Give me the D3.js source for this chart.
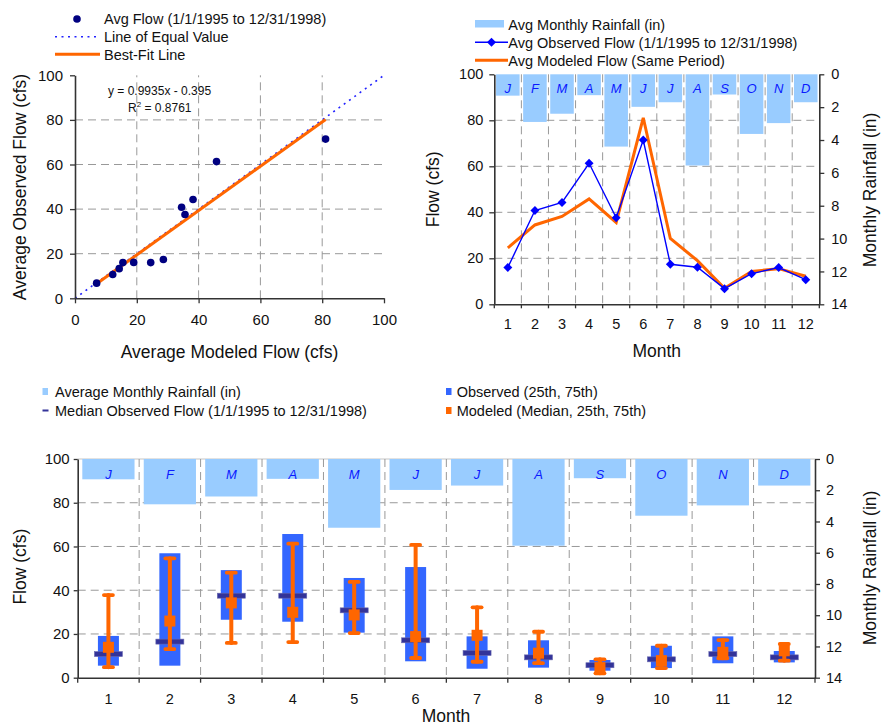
<!DOCTYPE html>
<html><head><meta charset="utf-8">
<script src="https://cdn.jsdelivr.net/npm/d3@7"></script>
<style>body{margin:0;background:#fff}svg{display:block}</style>
</head><body><svg id="c" width="888" height="727"></svg>
<script>
// ---------------- DATA ----------------
const months = [1,2,3,4,5,6,7,8,9,10,11,12];
const monthLetters = ["J","F","M","A","M","J","J","A","S","O","N","D"];
const rainfall = [1.3, 2.9, 2.4, 1.27, 4.4, 1.98, 1.7, 5.55, 1.23, 3.63, 2.97, 1.7];
const avgObserved = [16.0, 40.8, 44.3, 61.3, 37.6, 71.4, 17.4, 16.1, 6.8, 13.3, 16.0, 10.7];
const avgModeled  = [24.5, 34.5, 38.2, 45.8, 35.6, 81.1, 28.6, 19.0, 7.0, 14.3, 15.5, 12.2];
const fitSlope = 0.9935, fitIntercept = -0.395, fitR2 = 0.8761;
const obs25     = [5.5, 5.5, 26.5, 25.6, 20.6, 7.5, 4.1, 4.6, 3.2, 4.4, 6.6, 7.0];
const obs75     = [19.1, 56.9, 49.2, 65.7, 45.6, 50.6, 18.9, 17.1, 8.1, 14.6, 18.9, 12.2];
const obsMedian = [10.8, 16.5, 37.5, 37.5, 30.8, 17.1, 11.3, 9.3, 5.7, 8.4, 10.8, 9.3];
const mod25     = [4.8, 13.1, 15.9, 16.3, 20.4, 9.0, 7.3, 6.7, 2.0, 4.4, 8.9, 7.8];
const modMedian = [13.9, 25.9, 34.2, 29.9, 28.7, 18.8, 19.4, 11.2, 4.6, 7.8, 11.6, 12.3];
const mod75     = [37.8, 54.6, 48.0, 61.3, 43.8, 60.7, 32.2, 21.0, 8.4, 14.6, 17.2, 15.4];
const flowTicks = [0,20,40,60,80,100];
const rainTicks = [0,2,4,6,8,10,12,14];

// ---------------- STYLE ----------------
const FONT = '"Liberation Sans", Arial, Helvetica, sans-serif';
const GRID = "#999", AXIS = "#333", TXT = "#111";
const RAIN = "#99CCFF", OBSLINE = "#0000FF", ORANGE = "#FF6600", NAVY = "#000080";
const BOXBLUE = "#3366FF", MEDNAVY = "#333399", LETTER = "#0a1aff";

const svg = d3.select("#c").attr("font-family", FONT);
svg.append("rect").attr("width",888).attr("height",727).attr("fill","#fff");

function styleAxis(g, fs){
  g.attr("font-family", FONT).attr("font-size", fs);
  g.select(".domain").attr("stroke", AXIS).attr("stroke-width", 1.6);
  g.selectAll(".tick line").attr("stroke", AXIS).attr("stroke-width", 1.3);
  g.selectAll(".tick text").attr("fill", TXT);
}
function hGrid(g, x0, x1, yScale, vals){
  g.selectAll(null).data(vals).join("line")
    .attr("x1", x0).attr("x2", x1).attr("y1", d=>yScale(d)).attr("y2", d=>yScale(d))
    .attr("stroke", GRID).attr("stroke-width", 1).attr("stroke-dasharray", "8,5");
}
function vGridLin(g, y0, y1, xScale, vals){
  g.selectAll(null).data(vals).join("line")
    .attr("y1", y0).attr("y2", y1).attr("x1", d=>xScale(d)).attr("x2", d=>xScale(d))
    .attr("stroke", GRID).attr("stroke-width", 1).attr("stroke-dasharray", "8,5");
}
function rotText(g, x, y, txt, fs){
  g.append("text").attr("transform", `translate(${x},${y}) rotate(-90)`)
    .attr("text-anchor","middle").attr("font-size", fs).attr("fill", TXT).text(txt);
}
const diamond = d3.symbol(d3.symbolSquare, 40);

// =============== CHART A : scatter ===============
(function(){
  const g = svg.append("g");
  const x = d3.scaleLinear().domain([0,100]).range([75,384]);
  const y = d3.scaleLinear().domain([0,100]).range([298.3,75.3]);
  hGrid(g, x(0), x(100), y, [20,40,60,80]);
  vGridLin(g, y(0), y(100), x, [20,40,60,80]);
  g.append("line").attr("x1",x(0)).attr("y1",y(0)).attr("x2",x(100)).attr("y2",y(100))
    .attr("stroke","#2222ff").attr("stroke-width",1.6).attr("stroke-dasharray","2,4.5");
  const xmin = d3.min(avgModeled), xmax = d3.max(avgModeled);
  g.append("line").attr("x1",x(xmin)).attr("y1",y(fitSlope*xmin+fitIntercept))
    .attr("x2",x(xmax)).attr("y2",y(fitSlope*xmax+fitIntercept))
    .attr("stroke",ORANGE).attr("stroke-width",3);
  g.selectAll(null).data(months).join("circle")
    .attr("cx", (d,i)=>x(avgModeled[i])).attr("cy",(d,i)=>y(avgObserved[i]))
    .attr("r",3.8).attr("fill",NAVY);
  const ax = g.append("g").attr("transform",`translate(0,${y(0)})`)
    .call(d3.axisBottom(x).tickValues(flowTicks).tickSize(5).tickSizeOuter(0).tickPadding(11));
  styleAxis(ax, 15);
  const ay = g.append("g").attr("transform",`translate(${x(0)},0)`)
    .call(d3.axisLeft(y).tickValues(flowTicks).tickSize(5).tickSizeOuter(0).tickPadding(7));
  styleAxis(ay, 15);
  g.append("text").attr("x",108).attr("y",95).attr("font-size",12).attr("fill",TXT)
    .text(`y = ${fitSlope}x - ${Math.abs(fitIntercept)}`);
  const r2 = g.append("text").attr("x",128).attr("y",111.5).attr("font-size",12).attr("fill",TXT);
  r2.append("tspan").text("R");
  r2.append("tspan").attr("font-size",8).attr("dy",-5).text("2");
  r2.append("tspan").attr("dy",5).text(` = ${fitR2}`);
  g.append("text").attr("x",229.5).attr("y",358).attr("text-anchor","middle")
    .attr("font-size",17.5).attr("fill",TXT).text("Average Modeled Flow (cfs)");
  rotText(g, 26, 187, "Average Observed Flow (cfs)", 17.5);
  const L = g.append("g").attr("font-size",14.5).attr("fill",TXT);
  L.append("circle").attr("cx",77).attr("cy",19).attr("r",3.8).attr("fill",NAVY);
  L.append("text").attr("x",104).attr("y",24.2).text("Avg Flow (1/1/1995 to 12/31/1998)");
  L.append("line").attr("x1",55).attr("x2",100).attr("y1",36.7).attr("y2",36.7)
    .attr("stroke","#2222ff").attr("stroke-width",1.6).attr("stroke-dasharray","2,4.5");
  L.append("text").attr("x",104).attr("y",41.9).text("Line of Equal Value");
  L.append("line").attr("x1",55).attr("x2",100).attr("y1",54.3).attr("y2",54.3)
    .attr("stroke",ORANGE).attr("stroke-width",3);
  L.append("text").attr("x",104).attr("y",59.5).text("Best-Fit Line");
})();

// =============== CHART B : monthly lines ===============
(function(){
  const g = svg.append("g");
  const x = d3.scaleBand().domain(months).range([494.3,819.3]).paddingInner(0.13).paddingOuter(0.065);
  const xb = d3.scaleBand().domain(months).range([494.3,819.3]);
  const y = d3.scaleLinear().domain([0,100]).range([304.3,74.3]);
  const yr = d3.scaleLinear().domain([0,14]).range([74.3,304.3]);
  hGrid(g, 494.3, 819.3, y, [20,40,60,80]);
  const bounds = months.slice(1).map(m=>xb(m));
  g.selectAll(null).data(bounds).join("line").attr("x1",d=>d).attr("x2",d=>d)
    .attr("y1",y(100)).attr("y2",y(0)).attr("stroke",GRID).attr("stroke-dasharray","8,5");
  g.selectAll(null).data(months).join("rect")
    .attr("x",d=>x(d)).attr("width",x.bandwidth()).attr("y",yr(0))
    .attr("height",(d,i)=>yr(rainfall[i])-yr(0)).attr("fill",RAIN);
  g.selectAll(null).data(months).join("text")
    .attr("x",d=>xb(d)+xb.bandwidth()/2).attr("y",92.5).attr("text-anchor","middle")
    .attr("font-size",13).attr("font-style","italic").attr("fill",LETTER)
    .text((d,i)=>monthLetters[i]);
  const cx = d=>xb(d)+xb.bandwidth()/2;
  g.append("path").datum(months).attr("fill","none").attr("stroke",ORANGE).attr("stroke-width",3)
    .attr("d", d3.line().x(d=>cx(d)).y((d,i)=>y(avgModeled[i])));
  g.append("path").datum(months).attr("fill","none").attr("stroke",OBSLINE).attr("stroke-width",1.4)
    .attr("d", d3.line().x(d=>cx(d)).y((d,i)=>y(avgObserved[i])));
  g.selectAll(null).data(months).join("path")
    .attr("transform",(d,i)=>`translate(${cx(d)},${y(avgObserved[i])}) rotate(45)`)
    .attr("d", diamond).attr("fill",OBSLINE);
  const ay = g.append("g").attr("transform","translate(494.3,0)")
    .call(d3.axisLeft(y).tickValues(flowTicks).tickSize(5).tickSizeOuter(0).tickPadding(6));
  styleAxis(ay, 14.5);
  const ar = g.append("g").attr("transform","translate(819.3,0)")
    .call(d3.axisRight(yr).tickValues(rainTicks).tickSize(5).tickSizeOuter(0).tickPadding(7));
  styleAxis(ar, 14.5);
  const ab = g.append("g").attr("transform",`translate(0,${y(0)})`)
    .call(d3.axisBottom(xb).tickSize(0).tickPadding(14));
  styleAxis(ab, 14.5);
  g.selectAll(null).data(months.map(m=>xb(m)).concat([819.3])).join("line")
    .attr("x1",d=>d).attr("x2",d=>d).attr("y1",y(0)).attr("y2",y(0)+4)
    .attr("stroke",AXIS).attr("stroke-width",1.3);
  g.append("text").attr("x",656.8).attr("y",357).attr("text-anchor","middle")
    .attr("font-size",17.5).attr("fill",TXT).text("Month");
  rotText(g, 439, 189.3, "Flow (cfs)", 17.5);
  rotText(g, 876, 190, "Monthly Rainfall (in)", 17.5);
  const L = g.append("g").attr("font-size",14.5).attr("fill",TXT);
  L.append("rect").attr("x",475).attr("y",20).attr("width",29).attr("height",7.5).attr("fill",RAIN);
  L.append("text").attr("x",508.3).attr("y",29.5).text("Avg Monthly Rainfall (in)");
  L.append("line").attr("x1",475).attr("x2",508).attr("y1",42.3).attr("y2",42.3)
    .attr("stroke",OBSLINE).attr("stroke-width",1.4);
  L.append("path").attr("transform","translate(491.5,42.3) rotate(45)").attr("d",diamond).attr("fill",OBSLINE);
  L.append("text").attr("x",508.3).attr("y",47.5).text("Avg Observed Flow (1/1/1995 to 12/31/1998)");
  L.append("line").attr("x1",475).attr("x2",508).attr("y1",60.3).attr("y2",60.3)
    .attr("stroke",ORANGE).attr("stroke-width",3);
  L.append("text").attr("x",508.3).attr("y",65.5).text("Avg Modeled Flow (Same Period)");
})();

// =============== CHART C : box-style monthly ===============
(function(){
  const g = svg.append("g");
  const L0 = 77.7, R0 = 815;
  const xb = d3.scaleBand().domain(months).range([L0,R0]);
  const xr = d3.scaleBand().domain(months).range([L0,R0]).paddingInner(0.15).paddingOuter(0.075);
  const y = d3.scaleLinear().domain([0,100]).range([677.7,459]);
  const yr = d3.scaleLinear().domain([0,14]).range([459,677.7]);
  const cx = d=>xb(d)+xb.bandwidth()/2;
  g.append("line").attr("x1",L0).attr("x2",R0).attr("y1",y(100)).attr("y2",y(100))
    .attr("stroke","#d8d8d8").attr("stroke-width",1.5);
  hGrid(g, L0, R0, y, [20,40,60,80]);
  g.selectAll(null).data(months.slice(1).map(m=>xb(m))).join("line")
    .attr("x1",d=>d).attr("x2",d=>d).attr("y1",y(100)).attr("y2",y(0))
    .attr("stroke",GRID).attr("stroke-dasharray","8,5");
  g.selectAll(null).data(months).join("rect")
    .attr("x",d=>xr(d)).attr("width",xr.bandwidth()).attr("y",yr(0))
    .attr("height",(d,i)=>yr(rainfall[i])-yr(0)).attr("fill",RAIN);
  g.selectAll(null).data(months).join("text")
    .attr("x",d=>cx(d)).attr("y",478.5).attr("text-anchor","middle")
    .attr("font-size",13).attr("font-style","italic").attr("fill",LETTER)
    .text((d,i)=>monthLetters[i]);
  g.selectAll(null).data(months).join("rect")
    .attr("x",d=>cx(d)-10.5).attr("width",21)
    .attr("y",(d,i)=>y(obs75[i])).attr("height",(d,i)=>y(obs25[i])-y(obs75[i]))
    .attr("fill",BOXBLUE);
  g.selectAll(null).data(months).join("rect")
    .attr("x",d=>cx(d)-14).attr("width",28)
    .attr("y",(d,i)=>y(obsMedian[i])-2.5).attr("height",5)
    .attr("fill",MEDNAVY).attr("stroke","#6a6ab0").attr("stroke-width",0.6);
  const og = g.append("g").attr("stroke",ORANGE).attr("stroke-linecap","round");
  og.selectAll(null).data(months).join("line")
    .attr("x1",d=>cx(d)).attr("x2",d=>cx(d))
    .attr("y1",(d,i)=>y(mod75[i])).attr("y2",(d,i)=>y(mod25[i])).attr("stroke-width",4);
  og.selectAll(null).data(months.flatMap((m,i)=>[[m,mod25[i]],[m,mod75[i]]])).join("line")
    .attr("x1",d=>cx(d[0])-4.5).attr("x2",d=>cx(d[0])+4.5)
    .attr("y1",d=>y(d[1])).attr("y2",d=>y(d[1])).attr("stroke-width",3.8);
  g.selectAll(null).data(months).join("rect")
    .attr("x",d=>cx(d)-5.5).attr("width",11)
    .attr("y",(d,i)=>y(modMedian[i])-5.5).attr("height",11).attr("fill",ORANGE);
  const ay = g.append("g").attr("transform",`translate(${L0},0)`)
    .call(d3.axisLeft(y).tickValues(flowTicks).tickSize(4).tickSizeOuter(0).tickPadding(4));
  styleAxis(ay, 15);
  const ar = g.append("g").attr("transform",`translate(${R0},0)`)
    .call(d3.axisRight(yr).tickValues(rainTicks).tickSize(5).tickSizeOuter(0).tickPadding(6));
  styleAxis(ar, 14.5);
  const ab = g.append("g").attr("transform",`translate(0,${y(0)})`)
    .call(d3.axisBottom(xb).tickSize(0).tickPadding(16));
  styleAxis(ab, 14.5);
  g.selectAll(null).data(months.map(m=>xb(m)).concat([R0])).join("line")
    .attr("x1",d=>d).attr("x2",d=>d).attr("y1",y(0)).attr("y2",y(0)+5)
    .attr("stroke",AXIS).attr("stroke-width",1.3);
  g.append("text").attr("x",446).attr("y",722).attr("text-anchor","middle")
    .attr("font-size",17.5).attr("fill",TXT).text("Month");
  rotText(g, 26, 566.7, "Flow (cfs)", 17.5);
  rotText(g, 876, 568, "Monthly Rainfall (in)", 17.5);
  const Lg = g.append("g").attr("font-size",14.5).attr("fill",TXT);
  Lg.append("rect").attr("x",42.5).attr("y",388).attr("width",5.5).attr("height",7).attr("fill",RAIN);
  Lg.append("text").attr("x",55).attr("y",396.5).text("Average Monthly Rainfall (in)");
  Lg.append("rect").attr("x",42.5).attr("y",409.5).attr("width",6).attr("height",2).attr("fill",MEDNAVY);
  Lg.append("text").attr("x",55).attr("y",415.5).text("Median Observed Flow (1/1/1995 to 12/31/1998)");
  Lg.append("rect").attr("x",446).attr("y",388).attr("width",5.5).attr("height",7).attr("fill",BOXBLUE);
  Lg.append("text").attr("x",456.7).attr("y",396.5).text("Observed (25th, 75th)");
  Lg.append("rect").attr("x",446).attr("y",407).attr("width",5.5).attr("height",7).attr("fill",ORANGE);
  Lg.append("text").attr("x",456.7).attr("y",415.5).text("Modeled (Median, 25th, 75th)");
})();
</script></body></html>
